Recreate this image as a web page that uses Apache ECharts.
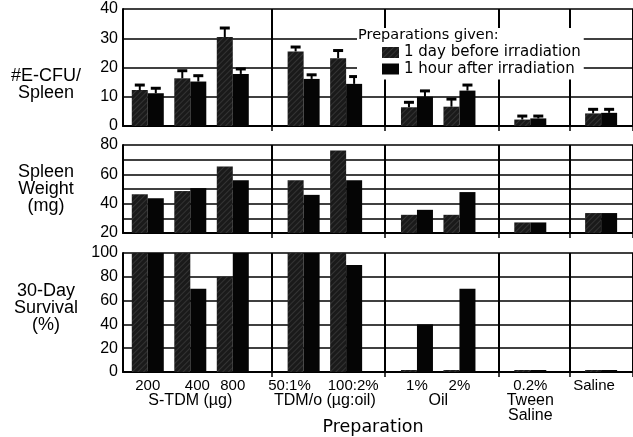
<!DOCTYPE html>
<html>
<head>
<meta charset="utf-8">
<script src="https://cdn.jsdelivr.net/npm/echarts@6/dist/echarts.min.js"></script>
<style>
  html, body { margin: 0; padding: 0; background: #fff; }
  #main { width: 633px; height: 437px; }
</style>
</head>
<body>
<div id="main"></div>
<script>
// categories: one pair of bars per preparation
const preparations = ['200', '400', '800', '50:1%', '100:2%', '1%', '2%', '0.2%', 'Saline'];
const groupNames = ['S-TDM (µg)', 'TDM/o (µg:oil)', 'Oil', 'Tween\nSaline'];
const seriesNames = ['1 day before irradiation', '1 hour after irradiation'];

// #E-CFU / spleen (mean and upper error)
const cfuDay = [12.3, 16.3, 30.4, 25.5, 23.2, 6.4, 6.6, 2.2, 4.3];
const cfuHour = [11.2, 15.2, 17.8, 16.1, 14.4, 10.0, 12.1, 2.6, 4.5];
const cfuDayErr = [1.7, 2.6, 3.1, 1.5, 2.6, 1.7, 2.6, 1.2, 1.4];
const cfuHourErr = [1.7, 2.0, 1.7, 1.4, 2.5, 2.0, 1.9, 0.8, 1.2];

// spleen weight (mg)
const weightDay = [46.4, 48.6, 65.4, 56, 76.2, 32.4, 32.4, 27.2, 33.6];
const weightHour = [43.7, 50.6, 56, 46, 56, 35.8, 47.9, 27.2, 33.6];

// 30-day survival (%)
const survDay = [100, 100, 80, 100, 100, 0, 0, 0, 0];
const survHour = [100, 70, 100, 100, 90, 40, 70, 0, 0];

// layout of the shared x axis (slots of a category axis)
const SLOTS = 72;
const pairSlot = [3, 9, 15, 25, 31, 41, 47, 57, 67];
const labelSlot = [3, 10, 15, 23, 32, 41, 47, 57, 66];
const groupSlot = [9, 28, 44, 57];
const separatorSlot = [21, 37, 53, 63];
const BAR_W = 16;
const FONT = 'Liberation Sans, Arial, sans-serif';
const WIDE = 'DejaVu Sans, sans-serif';

const slotNames = Array.from({ length: SLOTS }, (_, i) => 's' + i);
function spread(vals) {
  const a = new Array(SLOTS).fill('-');
  pairSlot.forEach((s, i) => { a[s] = vals[i]; });
  return a;
}
const pairLabel = {};
labelSlot.forEach((s, i) => { pairLabel[s] = preparations[i]; });
const groupLabel = {};
groupSlot.forEach((s, i) => { groupLabel[s] = groupNames[i]; });

const dayStyle = {
  color: '#1a1a1a',
  decal: {
    symbol: 'rect', symbolSize: 1, rotation: -Math.PI / 4,
    dashArrayX: [1, 0], dashArrayY: [1, 3],
    color: 'rgba(255,255,255,0.11)'
  }
};
const hourStyle = { color: '#050505' };

function sepAxis(gridIndex, ticks) {
  return {
    type: 'category', gridIndex: gridIndex, data: slotNames,
    axisLine: { show: true, lineStyle: { color: '#000', width: 2 } },
    axisTick: {
      show: ticks, length: 5, lineStyle: { color: '#000', width: 1.5 },
      interval: (i) => separatorSlot.includes(i)
    },
    axisLabel: { show: false },
    splitLine: {
      show: true, lineStyle: { color: '#000', width: 2 },
      interval: (i) => separatorSlot.includes(i)
    }
  };
}

// name block nudged up/down with an empty spacer line
function valueAxis(gridIndex, min, max, step, labelStep, name) {
  return {
    type: 'value', gridIndex: gridIndex, min: min, max: max, interval: step,
    axisLine: { show: true, lineStyle: { color: '#000', width: 2 } },
    axisTick: { show: false },
    axisLabel: {
      color: '#000', fontSize: 16, fontFamily: FONT, margin: 5,
      formatter: (v) => (v % labelStep === 0 ? String(v) : '')
    },
    splitLine: { show: true, lineStyle: { color: '#000', width: 1.5 } },
    name: name, nameLocation: 'middle', nameRotate: 0, nameGap: 77,
    nameTextStyle: {
      color: '#000', fontSize: 18, fontFamily: FONT, align: 'center', lineHeight: 17,
      rich: {
        gapA: { height: 34, lineHeight: 34, fontSize: 2 },
        gapB: { height: 9, lineHeight: 9, fontSize: 2 }
      }
    }
  };
}

const errData = [];
pairSlot.forEach((s, i) => {
  errData.push([s, cfuDay[i], cfuDayErr[i], -1]);
  errData.push([s, cfuHour[i], cfuHourErr[i], 1]);
});

const chart = echarts.init(document.getElementById('main'));

const option = {
  backgroundColor: '#fff',
  animation: false,
  textStyle: { fontFamily: FONT },
  title: {
    text: 'Preparations given:', left: 358, top: 28, padding: 0, z: 10,
    textStyle: { fontSize: 14.5, fontWeight: 'normal', color: '#000', fontFamily: WIDE }
  },
  legend: {
    data: seriesNames, orient: 'vertical', left: 357, top: 28,
    padding: [17, 3, 3, 25], itemGap: 1.5, itemWidth: 17, itemHeight: 11, icon: 'rect',
    backgroundColor: '#fff', selectedMode: false,
    textStyle: { fontSize: 15, color: '#000', fontFamily: WIDE, lineHeight: 15 }
  },
  grid: [
    { left: 123, right: 0, top: 9, height: 117 },
    { left: 123, right: 0, top: 145, height: 88 },
    { left: 123, right: 0, top: 253, height: 122 }
  ],
  xAxis: [
    sepAxis(0, true),
    sepAxis(1, true),
    Object.assign(sepAxis(2, true), {
      name: 'Preparation', nameLocation: 'middle', nameGap: 46,
      nameTextStyle: { color: '#000', fontSize: 17.5, fontFamily: WIDE, padding: [0, 10, 0, 0] }
    }),
    {
      type: 'category', gridIndex: 2, data: slotNames, position: 'bottom', offset: 0,
      axisLine: { show: false }, axisTick: { show: false }, splitLine: { show: false },
      axisLabel: {
        interval: 0, margin: 6, color: '#000', fontSize: 15, fontFamily: FONT,
        formatter: (v, i) => pairLabel[i] || ''
      }
    },
    {
      type: 'category', gridIndex: 2, data: slotNames, position: 'bottom', offset: 15,
      axisLine: { show: false }, axisTick: { show: false }, splitLine: { show: false },
      axisLabel: {
        interval: 0, margin: 6, color: '#000', fontSize: 16, fontFamily: FONT, lineHeight: 15,
        formatter: (v, i) => groupLabel[i] || ''
      }
    }
  ],
  yAxis: [
    valueAxis(0, 0, 40, 10, 10, '{gapA| }\n#E-CFU/\nSpleen'),
    valueAxis(1, 20, 80, 10, 20, 'Spleen\nWeight\n(mg)'),
    valueAxis(2, 0, 100, 20, 20, '30-Day\nSurvival\n(%)\n{gapB| }')
  ],
  series: [
    { name: seriesNames[0], type: 'bar', xAxisIndex: 0, yAxisIndex: 0, data: spread(cfuDay),
      barWidth: BAR_W, barGap: '0%', itemStyle: dayStyle },
    { name: seriesNames[1], type: 'bar', xAxisIndex: 0, yAxisIndex: 0, data: spread(cfuHour),
      barWidth: BAR_W, barGap: '0%', itemStyle: hourStyle },
    {
      type: 'custom', xAxisIndex: 0, yAxisIndex: 0, data: errData, z: 3,
      encode: { x: 0, y: 1 },
      renderItem: function (params, api) {
        const slot = api.value(0), v = api.value(1), e = api.value(2), side = api.value(3);
        const base = api.coord([slot, v]);
        const top = api.coord([slot, v + e]);
        const x = base[0] + side * BAR_W / 2;
        return {
          type: 'group',
          children: [
            { type: 'line', shape: { x1: x, y1: base[1], x2: x, y2: top[1] },
              style: { stroke: '#000', lineWidth: 2 } },
            { type: 'line', shape: { x1: x - 5, y1: top[1], x2: x + 5, y2: top[1] },
              style: { stroke: '#000', lineWidth: 3 } }
          ]
        };
      }
    },
    { name: seriesNames[0], type: 'bar', xAxisIndex: 1, yAxisIndex: 1, data: spread(weightDay),
      barWidth: BAR_W, barGap: '0%', itemStyle: dayStyle },
    { name: seriesNames[1], type: 'bar', xAxisIndex: 1, yAxisIndex: 1, data: spread(weightHour),
      barWidth: BAR_W, barGap: '0%', itemStyle: hourStyle },
    { name: seriesNames[0], type: 'bar', xAxisIndex: 2, yAxisIndex: 2, data: spread(survDay),
      barWidth: BAR_W, barGap: '0%', barMinHeight: 2, itemStyle: dayStyle },
    { name: seriesNames[1], type: 'bar', xAxisIndex: 2, yAxisIndex: 2, data: spread(survHour),
      barWidth: BAR_W, barGap: '0%', barMinHeight: 2, itemStyle: hourStyle }
  ]
};

chart.setOption(option);
</script>
</body>
</html>
